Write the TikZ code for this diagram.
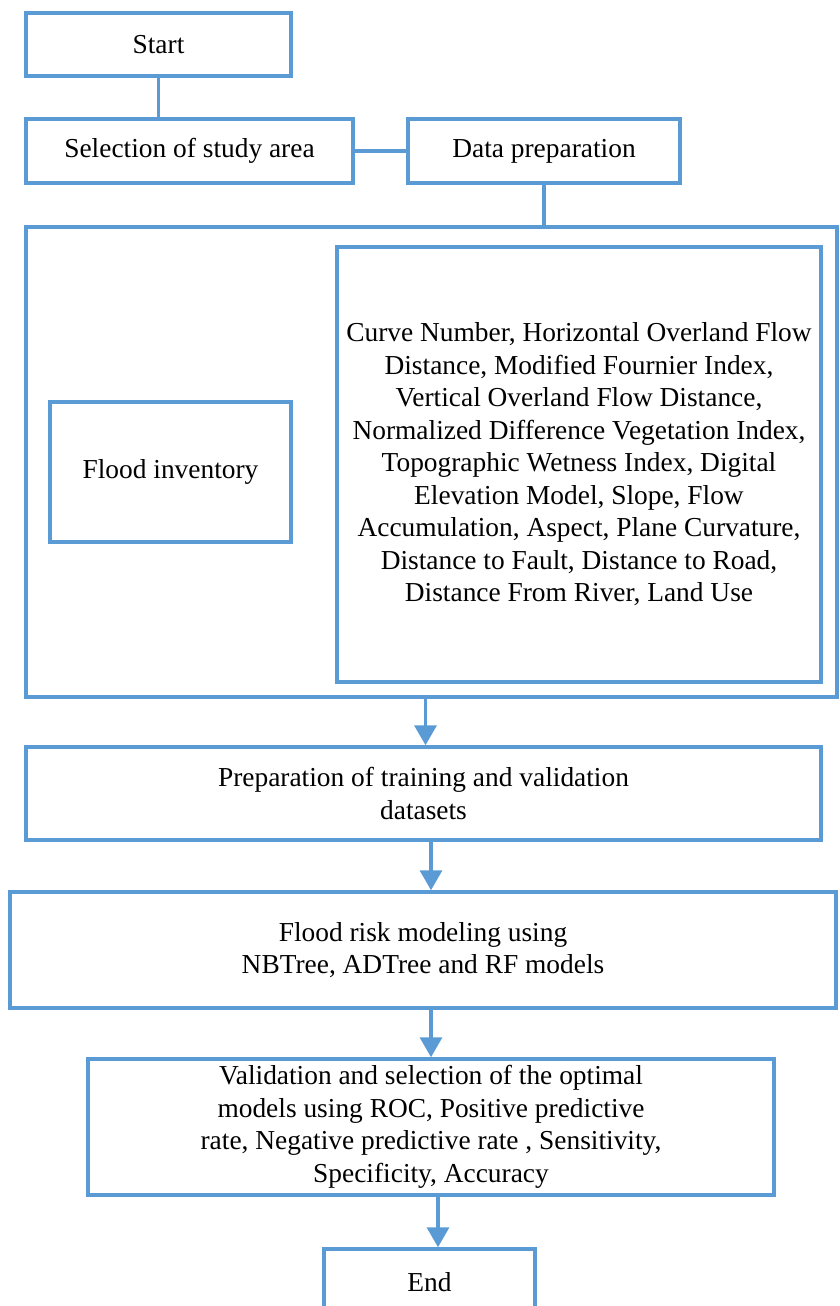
\documentclass[tikz,border=0pt]{standalone}
\usepackage{fontspec}
\setmainfont{Liberation Serif}
\usepackage{tikz}
\usetikzlibrary{arrows.meta}
\usepackage{xcolor}
\definecolor{boxblue}{RGB}{91,155,213}

\begin{document}
\begin{tikzpicture}[x=1pt, y=-1pt,
	box/.style={draw=boxblue, line width=3.5pt, align=center, inner sep=0pt,
		font=\fontsize{27.4}{32.5}\selectfont},
	link/.style={draw=boxblue, line width=3.5pt},
	arr/.style={link, -{Triangle[length=20pt, width=22pt]}}]
	\useasboundingbox (0,0) rectangle (839,1306);
	% top row
	\node [box, minimum width=265, minimum height=63] (start) at (158.5,44.5) {Start};
	\node [box, minimum width=327, minimum height=64] (sel) at (189.5,151) {Selection of study area};
	\node [box, minimum width=272, minimum height=64] (prep) at (544,151) {Data preparation};
	% data block
	\node [box, minimum width=811, minimum height=470] (data) at (431.5,462) {};
	\node [box, minimum width=241, minimum height=140] (inv) at (170.5,472) {Flood inventory};
	\node [box, minimum width=484, minimum height=435] (fact) at (579,464.5) {Curve Number, Horizontal Overland Flow\\
		Distance, Modified Fournier Index,\\
		Vertical Overland Flow Distance,\\
		Normalized Difference Vegetation Index,\\
		Topographic Wetness Index, Digital\\
		Elevation Model, Slope, Flow\\
		Accumulation, Aspect, Plane Curvature,\\
		Distance to Fault, Distance to Road,\\
		Distance From River, Land Use};
	% lower steps
	\node [box, minimum width=795, minimum height=93] (train) at (423.5,793.5) {Preparation of training and validation\\ datasets};
	\node [box, minimum width=826, minimum height=116] (model) at (423,950) {Flood risk modeling using\\ NBTree, ADTree and RF models};
	\node [box, minimum width=686, minimum height=136] (valid) at (431,1127) {Validation and selection of the optimal\\
		models using ROC, Positive predictive\\
		rate, Negative predictive rate , Sensitivity,\\
		Specificity, Accuracy};
	\node [box, minimum width=211, minimum height=66] (end) at (429.5,1282) {End};

	% connectors
	\draw [link] (start.south) -- (start.south |- sel.north);
	\draw [link] (sel.east) -- (prep.west);
	\draw [link] (prep.south) -- (prep.south |- data.north);
	\draw [arr] ([xshift=2]train.north |- data.south) -- ([xshift=2]train.north);
	\draw [arr] (train.south -| valid.north) -- (model.north -| valid.north);
	\draw [arr] (valid.north |- model.south) -- (valid.north);
	\coordinate (vs) at ([xshift=7]valid.south);
	\draw [arr] (vs) -- (vs |- end.north);
\end{tikzpicture}
\end{document}
